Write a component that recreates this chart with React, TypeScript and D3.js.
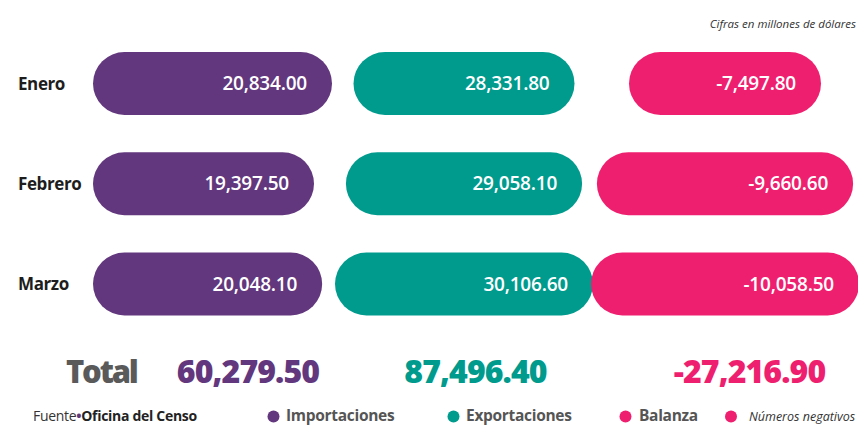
import React from "react";
import * as d3 from "d3";

const months = ["Enero", "Febrero", "Marzo"];
const importaciones = [20834.0, 19397.5, 20048.1];
const exportaciones = [28331.8, 29058.1, 30106.6];
const balanza = [-7497.8, -9660.6, -10058.5];
const totals = [60279.5, 87496.4, -27216.9];
const seriesNames = ["Importaciones", "Exportaciones", "Balanza"];
const note = "Cifras en millones de dólares";
const source = "Oficina del Censo";
const negativeLabel = "Números negativos";

const W = 858;
const H = 425;
const colors = ["#62377d", "#009b8d", "#ef1f6f"];
const FONT = "'Open Sans', 'Noto Sans', sans-serif";

const fmt = d3.formatLocale({
  decimal: ".",
  thousands: ",",
  grouping: [3],
  currency: ["$", ""],
  minus: "-",
}).format(",.2f");

export default function App() {
  const series = [importaciones, exportaciones, balanza];
  const y = d3.scalePoint<string>().domain(months).range([83.5, 284]);
  const pillH = 63;

  const widthRanges: [number, number][] = [
    [221, 239],
    [221, 258],
    [192, 268],
  ];
  const widthScales = series.map((vals, i) => {
    const abs = vals.map((v) => Math.abs(v));
    return d3
      .scaleLinear()
      .domain(d3.extent(abs) as [number, number])
      .range(widthRanges[i]);
  });
  const anchorX = [93, 464, 725];
  const anchorMode = ["left", "center", "center"];

  const totalXs = [248, 475.5, 749.5];

  const legend = [
    { cx: 273.5, tx: 286, label: seriesNames[0], color: colors[0] },
    { cx: 453.5, tx: 466, label: seriesNames[1], color: colors[1] },
    { cx: 625.5, tx: 639, label: seriesNames[2], color: colors[2] },
  ];

  return (
    <svg
      width={W}
      height={H}
      style={{ position: "absolute", left: 0, top: 0, background: "#fff" }}
      fontFamily={FONT}
    >
      <rect width={W} height={H} fill="#fff" />
      <text x={856} y={28} textAnchor="end" fontSize={11.5} fontStyle="italic" fill="#333">
        {note}
      </text>

      {months.map((m, r) => (
        <g key={m}>
          <text
            x={18}
            y={(y(m) as number) + 6}
            fontSize={17}
            fontWeight={700}
            letterSpacing={-0.4}
            fill="#1d1d1d"
          >
            {m}
          </text>
          {series.map((vals, c) => {
            const w = widthScales[c](Math.abs(vals[r]));
            const x0 = anchorMode[c] === "left" ? anchorX[c] : anchorX[c] - w / 2;
            const cy = y(m) as number;
            return (
              <g key={c}>
                <rect
                  x={x0}
                  y={cy - pillH / 2}
                  width={w}
                  height={pillH}
                  rx={pillH / 2}
                  ry={pillH / 2}
                  fill={colors[c]}
                />
                <text
                  x={x0 + w - 25}
                  y={cy + 6.5}
                  textAnchor="end"
                  fontSize={19}
                  fontWeight={600}
                  letterSpacing={-0.2}
                  fill="#fff"
                >
                  {fmt(vals[r])}
                </text>
              </g>
            );
          })}
        </g>
      ))}

      <text x={66} y={383} fontSize={31} fontWeight={800} letterSpacing={-2.2} fill="#5a5a5a">
        Total
      </text>
      {totals.map((t, i) => (
        <text
          key={i}
          x={totalXs[i]}
          y={383}
          textAnchor="middle"
          fontSize={32}
          fontWeight={800}
          letterSpacing={-0.9}
          fill={colors[i]}
        >
          {fmt(t)}
        </text>
      ))}

      <text x={33} y={420.5} fontSize={14} fill="#333" letterSpacing={-0.3}>
        Fuente
        <tspan fill={colors[0]} fontWeight={700}>•</tspan>
        <tspan fontWeight={700} fill="#222">{source}</tspan>
      </text>
      {legend.map((d) => (
        <g key={d.label}>
          <circle cx={d.cx} cy={416.5} r={6} fill={d.color} />
          <text x={d.tx} y={421} fontSize={15.5} fontWeight={700} letterSpacing={-0.3} fill="#555">
            {d.label}
          </text>
        </g>
      ))}
      <circle cx={731} cy={416.5} r={6} fill={colors[2]} />
      <text x={749} y={420.5} fontSize={12.5} fontStyle="italic" fill="#333">
        {negativeLabel}
      </text>
    </svg>
  );
}
